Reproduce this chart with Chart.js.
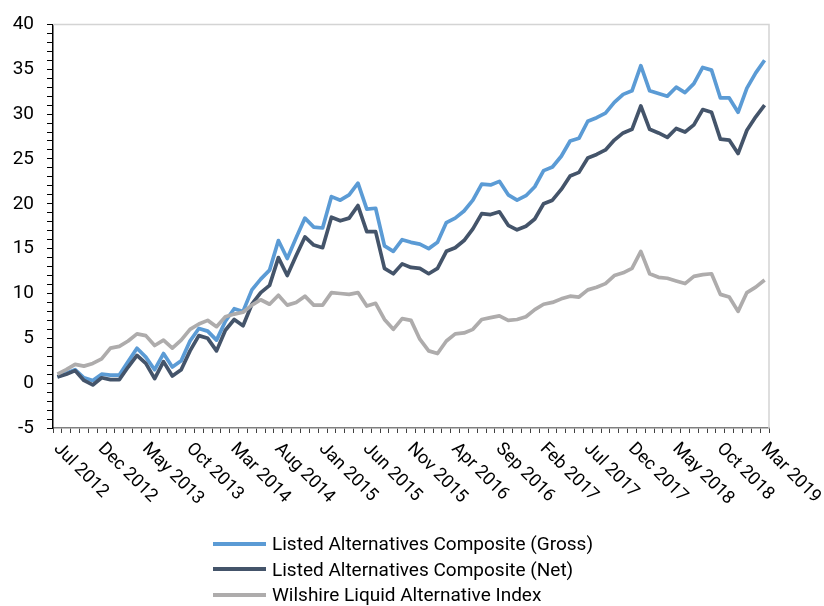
<!DOCTYPE html>
<html>
<head>
<meta charset="utf-8">
<script src="https://cdn.jsdelivr.net/npm/chart.js@4.4.1/dist/chart.umd.min.js"></script>
<style>
  html, body { margin: 0; padding: 0; background: #fff; }
  #wrap { position: relative; width: 824px; height: 606px; }
  #chart { position: absolute; left: 0; top: 0; }
  #legend { position: absolute; left: 213px; top: 531px; font: 19px Roboto, sans-serif; color: #000; }
  .lg-row { height: 25.5px; display: flex; align-items: center; }
  .lg-line { width: 53px; height: 4px; margin-right: 6px; }
</style>
</head>
<body>
<div id="wrap">
  <canvas id="chart" width="824" height="606" style="width:824px;height:606px"></canvas>
  <div id="legend"></div>
</div>
<script>
// ── 데이터 ───────────────────────────────────────────
const months = [
  "Jul 2012","Aug 2012","Sep 2012","Oct 2012","Nov 2012","Dec 2012",
  "Jan 2013","Feb 2013","Mar 2013","Apr 2013","May 2013","Jun 2013","Jul 2013","Aug 2013","Sep 2013","Oct 2013","Nov 2013","Dec 2013",
  "Jan 2014","Feb 2014","Mar 2014","Apr 2014","May 2014","Jun 2014","Jul 2014","Aug 2014","Sep 2014","Oct 2014","Nov 2014","Dec 2014",
  "Jan 2015","Feb 2015","Mar 2015","Apr 2015","May 2015","Jun 2015","Jul 2015","Aug 2015","Sep 2015","Oct 2015","Nov 2015","Dec 2015",
  "Jan 2016","Feb 2016","Mar 2016","Apr 2016","May 2016","Jun 2016","Jul 2016","Aug 2016","Sep 2016","Oct 2016","Nov 2016","Dec 2016",
  "Jan 2017","Feb 2017","Mar 2017","Apr 2017","May 2017","Jun 2017","Jul 2017","Aug 2017","Sep 2017","Oct 2017","Nov 2017","Dec 2017",
  "Jan 2018","Feb 2018","Mar 2018","Apr 2018","May 2018","Jun 2018","Jul 2018","Aug 2018","Sep 2018","Oct 2018","Nov 2018","Dec 2018",
  "Jan 2019","Feb 2019","Mar 2019"
];
const tickLabels = ["Jul 2012","Dec 2012","May 2013","Oct 2013","Mar 2014","Aug 2014","Jan 2015","Jun 2015",
  "Nov 2015","Apr 2016","Sep 2016","Feb 2017","Jul 2017","Dec 2017","May 2018","Oct 2018","Mar 2019"];

const grossValues = [
  0.7, 1.1, 1.5, 0.6, 0.3, 1.0, 0.9, 0.9, 2.4, 3.9, 2.9, 1.5, 3.3, 1.8, 2.5, 4.7, 6.1, 5.8, 4.8, 6.9,
  8.3, 8.0, 10.4, 11.6, 12.6, 15.9, 13.9, 16.2, 18.4, 17.4, 17.3, 20.8, 20.4, 21.0, 22.3, 19.4, 19.5, 15.3, 14.7, 16.0,
  15.7, 15.5, 15.0, 15.7, 17.9, 18.4, 19.2, 20.4, 22.2, 22.1, 22.5, 21.0, 20.4, 20.9, 21.9, 23.7, 24.1, 25.3, 27.0, 27.3,
  29.2, 29.6, 30.1, 31.3, 32.2, 32.6, 35.4, 32.6, 32.3, 32.0, 33.0, 32.4, 33.4, 35.2, 34.9, 31.8, 31.8, 30.2, 32.9, 34.6,
  36.0
];
const netValues = [
  0.7, 1.0, 1.4, 0.3, -0.2, 0.6, 0.4, 0.4, 1.8, 3.1, 2.2, 0.5, 2.4, 0.8, 1.5, 3.6, 5.3, 5.0, 3.6, 5.9,
  7.1, 6.4, 8.8, 10.1, 10.9, 14.0, 12.0, 14.2, 16.3, 15.4, 15.1, 18.5, 18.1, 18.4, 19.8, 16.9, 16.9, 12.8, 12.2, 13.3,
  12.9, 12.8, 12.2, 12.8, 14.7, 15.1, 15.9, 17.2, 18.9, 18.8, 19.1, 17.6, 17.1, 17.5, 18.3, 20.0, 20.4, 21.6, 23.1, 23.5,
  25.1, 25.5, 26.0, 27.1, 27.9, 28.3, 30.9, 28.3, 27.9, 27.4, 28.4, 28.0, 28.8, 30.5, 30.2, 27.2, 27.1, 25.6, 28.2, 29.7,
  31.0
];
const wilshireValues = [
  1.0, 1.5, 2.1, 1.9, 2.2, 2.7, 3.9, 4.1, 4.7, 5.5, 5.3, 4.2, 4.8, 3.9, 4.8, 6.0, 6.6, 7.0, 6.3, 7.4,
  7.7, 7.9, 8.7, 9.3, 8.8, 9.8, 8.7, 9.0, 9.7, 8.7, 8.7, 10.1, 10.0, 9.9, 10.1, 8.6, 8.9, 7.1, 6.0, 7.2,
  7.0, 4.9, 3.6, 3.3, 4.7, 5.5, 5.6, 6.0, 7.1, 7.3, 7.5, 7.0, 7.1, 7.4, 8.2, 8.8, 9.0, 9.4, 9.7, 9.6,
  10.4, 10.7, 11.1, 12.0, 12.3, 12.8, 14.7, 12.2, 11.8, 11.7, 11.4, 11.1, 11.9, 12.1, 12.2, 9.9, 9.6, 8.0, 10.1, 10.7,
  11.5
];

const seriesNames  = ["Listed Alternatives Composite (Gross)", "Listed Alternatives Composite (Net)", "Wilshire Liquid Alternative Index"];
const seriesColors = ["#5B9BD5", "#44546A", "#AEACAC"];

// ── 범례 (HTML) ──────────────────────────────────────
const $legend = document.getElementById("legend");
seriesNames.forEach((name, i) => {
  const row = document.createElement("div");
  row.className = "lg-row";
  row.innerHTML = '<div class="lg-line" style="background:' + seriesColors[i] + '"></div><span>' + name + '</span>';
  $legend.appendChild(row);
});

// ── 플러그인: 회전된 x 라벨 + 테두리 ──────────────────
const xLabelPlugin = {
  id: "xLabels",
  afterDraw(c) {
    const { ctx, chartArea, scales } = c;
    const x = scales.x;
    ctx.save();
    ctx.font = "18px Roboto";
    ctx.fillStyle = "#000";
    ctx.textAlign = "left";
    ctx.textBaseline = "middle";
    months.forEach((m, i) => {
      if (!tickLabels.includes(m)) return;
      const px = x.getPixelForValue(i);
      ctx.save();
      ctx.translate(px - 1, chartArea.bottom + 18);
      ctx.rotate(Math.PI / 4);
      ctx.fillText(m, 0, 0);
      ctx.restore();
    });
    ctx.restore();
  }
};
const borderPlugin = {
  id: "frame",
  beforeDatasetsDraw(c) {
    const { ctx, chartArea } = c;
    ctx.save();
    ctx.strokeStyle = "#D4D4D4";
    ctx.lineWidth = 1.5;
    ctx.beginPath();
    ctx.moveTo(chartArea.left, chartArea.top);
    ctx.lineTo(chartArea.right, chartArea.top);
    ctx.lineTo(chartArea.right, chartArea.bottom);
    ctx.stroke();
    ctx.restore();
  }
};

// ── 차트 ─────────────────────────────────────────────
const mkSet = (i, data, order) => ({
  label: seriesNames[i], data, borderColor: seriesColors[i], backgroundColor: seriesColors[i],
  borderWidth: 3.7, pointRadius: 0, tension: 0, borderJoinStyle: "round", fill: false, order
});

new Chart(document.getElementById("chart").getContext("2d"), {
  type: "line",
  data: {
    labels: months,
    datasets: [ mkSet(0, grossValues, 2), mkSet(1, netValues, 1), mkSet(2, wilshireValues, 0) ]
  },
  options: {
    responsive: false,
    animation: false,
    layout: { padding: { top: 23, right: 55, left: 0, bottom: 0 } },
    plugins: { legend: { display: false }, tooltip: { enabled: false } },
    scales: {
      x: {
        type: "category",
        offset: true,
        grid: { drawOnChartArea: false, drawTicks: true, tickLength: 5, offset: true, color: "#404040", lineWidth: 1 },
        border: { color: "#808080", width: 1.5 },
        ticks: { display: false },
        afterFit: (s) => { s.height = 178; }
      },
      y: {
        min: -5, max: 40,
        grid: { drawOnChartArea: false, drawTicks: true, tickLength: 6, color: "#000", lineWidth: 1 },
        border: { color: "#000", width: 1.5 },
        ticks: {
          stepSize: 1, autoSkip: false, padding: 13, color: "#000",
          font: { family: "Roboto", size: 19 },
          callback: (v) => (v % 5 === 0 ? v : "")
        },
        afterFit: (s) => { s.width = 53; }
      }
    }
  },
  plugins: [borderPlugin, xLabelPlugin]
});
</script>
</body>
</html>
